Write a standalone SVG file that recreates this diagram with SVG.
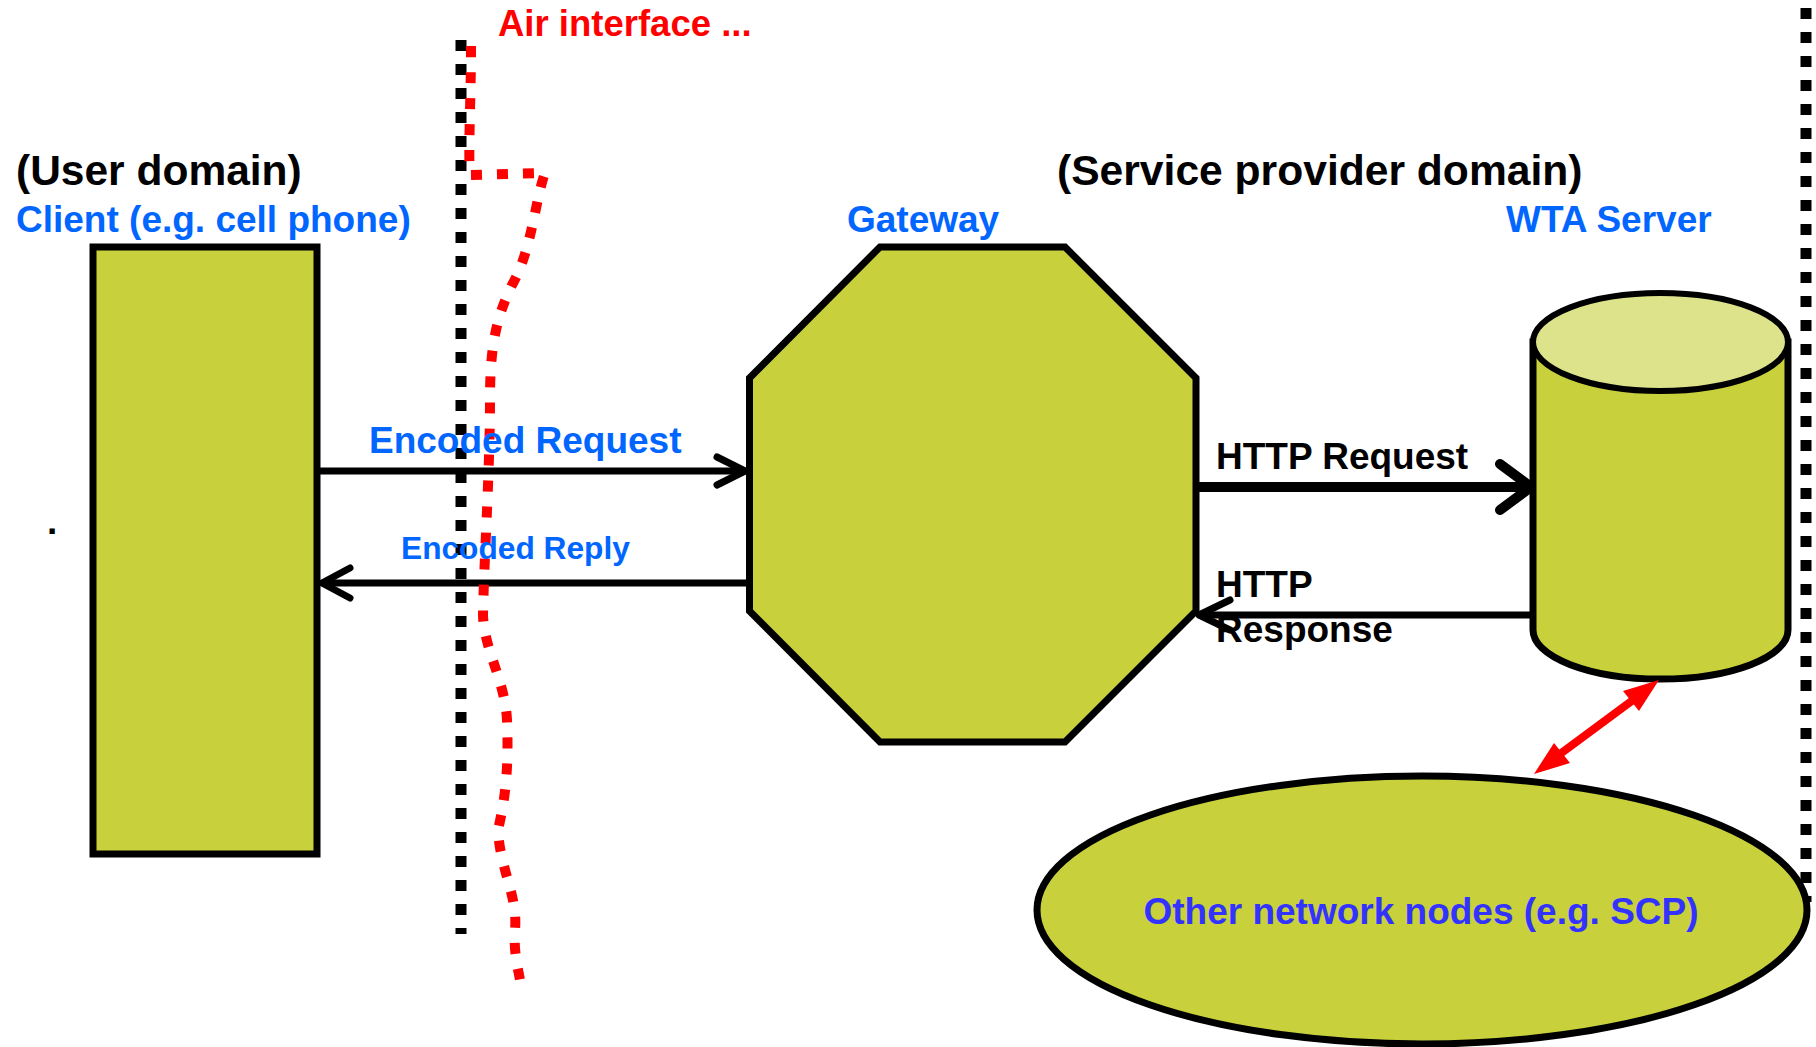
<svg xmlns="http://www.w3.org/2000/svg" width="1816" height="1047" viewBox="0 0 1816 1047">
<style>
  .node { fill: #C8D03C; stroke: #000; stroke-width: 7; stroke-linejoin: miter; }
  .top { fill: #DCE38A; stroke: #000; stroke-width: 6; }
  .t { font-family: "Liberation Sans", Arial, sans-serif; font-weight: bold; }
  .blue { fill: #0066FF; }
  .blk { fill: #000; }
  .red { fill: #FF0000; }
  .conn { fill: none; stroke: #000; stroke-width: 7; stroke-linecap: round; stroke-linejoin: round; }
  .thick { stroke-width: 10; }
  .dots { fill: none; stroke: #000; stroke-width: 11; stroke-dasharray: 11 13; }
  .reddash { fill: none; stroke: #FF0000; stroke-width: 10; stroke-dasharray: 11 15; }
</style>
<rect width="1816" height="1047" fill="#fff"/>

<g id="boundaries">
  <line class="dots" x1="461" y1="40" x2="461" y2="934"/>
  <line class="dots" x1="1806" y1="8" x2="1806" y2="902"/>
</g>

<g id="client">
  <rect class="node" x="93" y="247" width="224" height="607"/>
</g>

<g id="gateway">
  <polygon class="node" points="880,247 1065,247 1196,378 1196,611 1065,742 880,742 749.5,611 749.5,378"/>
</g>

<g id="wta-server">
  <path class="node" stroke-width="6" d="M1533,342 L1533,630 A127.5,49 0 0 0 1788,630 L1788,342 Z"/>
  <ellipse class="top" cx="1660.5" cy="342" rx="127.5" ry="49"/>
</g>

<g id="other-nodes">
  <ellipse class="node" cx="1422" cy="910" rx="385" ry="134"/>
</g>

<g id="connectors">
  <line class="conn" x1="320" y1="471" x2="744" y2="471"/>
  <polyline class="conn" points="717,457 745,471 717,485"/>
  <line class="conn" x1="746" y1="583" x2="323" y2="583"/>
  <polyline class="conn" points="350,568 322,583 350,598"/>
  <line class="conn thick" x1="1199" y1="487" x2="1529" y2="487"/>
  <polyline class="conn thick" points="1500,464 1531,487 1500,510"/>
  <line class="conn" x1="1531" y1="615" x2="1201" y2="615"/>
  <polyline class="conn" points="1230,600 1199,615 1230,630"/>
  <line x1="1560" y1="754" x2="1633" y2="700" stroke="#FF0000" stroke-width="8"/>
  <polygon points="1659,680 1623,691 1639,711" fill="#FF0000"/>
  <polygon points="1534,774 1554,743 1570,763" fill="#FF0000"/>
</g>

<g id="air-interface">
  <path class="reddash" d="M471,46 C471,100 468,150 470,175 L545,173 C535,200 532,250 512,285 C495,320 490,350 490,400 C490,470 484,560 483,615 C484,650 505,680 507,720 C509,770 505,800 498,830 C500,870 518,895 515,930 C513,955 520,975 522,992"/>
</g>

<g id="labels">
  <text class="t red" x="498" y="36" font-size="36.5">Air interface ...</text>
  <text class="t blk" x="16" y="185" font-size="42.5">(User domain)</text>
  <text class="t blue" x="16" y="232" font-size="37">Client (e.g. cell phone)</text>
  <text class="t blue" x="847" y="232" font-size="37">Gateway</text>
  <text class="t blk" x="1057" y="185" font-size="42.6">(Service provider domain)</text>
  <text class="t blue" x="1506" y="232" font-size="37">WTA Server</text>
  <text class="t blue" x="369" y="453" font-size="37">Encoded Request</text>
  <text class="t blue" x="401" y="559" font-size="31.7">Encoded Reply</text>
  <text class="t blk" x="1216" y="469" font-size="37">HTTP Request</text>
  <text class="t blk" x="1216" y="597" font-size="37">HTTP</text>
  <text class="t blk" x="1216" y="642" font-size="37">Response</text>
  <text class="t" fill="#3333FF" x="1421" y="924" font-size="37" text-anchor="middle">Other network nodes (e.g. SCP)</text>
  <text class="t blk" x="47" y="534" font-size="37">.</text>
</g>
</svg>
